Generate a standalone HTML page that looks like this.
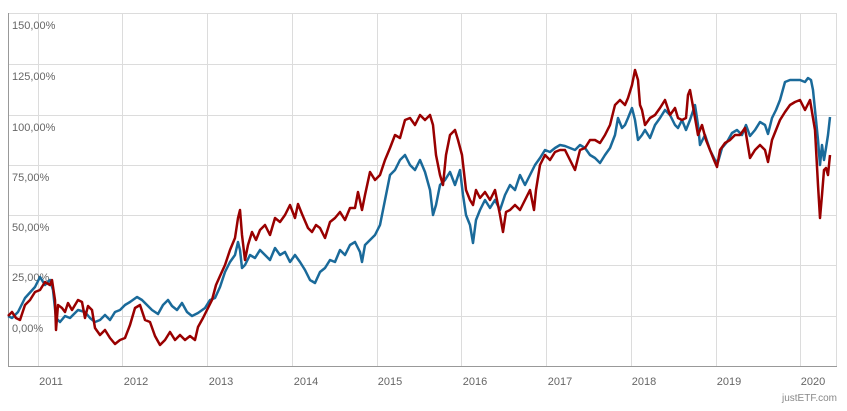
<!DOCTYPE html>
<html><head><meta charset="utf-8"><style>
body{margin:0;background:#fff;}
svg text{font-family:"Liberation Sans",sans-serif;font-size:11px;fill:#666;}
</style></head><body>
<svg width="847" height="406" xmlns="http://www.w3.org/2000/svg">
<g stroke="#dcdcdc" stroke-width="1">
<line x1="8" y1="13.5" x2="837" y2="13.5"/><line x1="8" y1="64.5" x2="837" y2="64.5"/><line x1="8" y1="115.5" x2="837" y2="115.5"/><line x1="8" y1="165.5" x2="837" y2="165.5"/><line x1="8" y1="215.5" x2="837" y2="215.5"/><line x1="8" y1="265.5" x2="837" y2="265.5"/><line x1="8" y1="316.5" x2="837" y2="316.5"/>
<line x1="38.5" y1="13" x2="38.5" y2="366"/><line x1="122.5" y1="13" x2="122.5" y2="366"/><line x1="207.5" y1="13" x2="207.5" y2="366"/><line x1="292.5" y1="13" x2="292.5" y2="366"/><line x1="377.5" y1="13" x2="377.5" y2="366"/><line x1="461.5" y1="13" x2="461.5" y2="366"/><line x1="546.5" y1="13" x2="546.5" y2="366"/><line x1="631.5" y1="13" x2="631.5" y2="366"/><line x1="716.5" y1="13" x2="716.5" y2="366"/><line x1="800.5" y1="13" x2="800.5" y2="366"/>
<line x1="836.5" y1="13" x2="836.5" y2="366"/>
</g>
<g stroke="#999" stroke-width="1"><line x1="8.5" y1="13" x2="8.5" y2="366"/><line x1="8" y1="366.5" x2="837" y2="366.5"/></g>
<g>
<text x="12" y="29">150,00%</text><text x="12" y="80">125,00%</text><text x="12" y="131">100,00%</text><text x="12" y="181">75,00%</text><text x="12" y="231">50,00%</text><text x="12" y="281">25,00%</text><text x="12" y="332">0,00%</text>
</g>
<g text-anchor="middle">
<text x="51" y="385">2011</text><text x="136" y="385">2012</text><text x="221" y="385">2013</text><text x="306" y="385">2014</text><text x="390" y="385">2015</text><text x="475" y="385">2016</text><text x="560" y="385">2017</text><text x="644" y="385">2018</text><text x="729" y="385">2019</text><text x="813" y="385">2020</text>
</g>
<text x="837" y="401" text-anchor="end" style="font-size:10px;fill:#888">justETF.com</text>
<polyline fill="none" stroke="#1a6a9a" stroke-width="2.5" stroke-linejoin="round" points="8,316 12,318 18,312 25,298 35,287 40,277 45,285 50,280 53,290 56,318 60,322 65,316 70,318 78,310 85,312 90,318 95,322 100,320 105,315 110,320 115,312 120,310 125,305 130,302 137,297 142,300 147,305 152,310 158,314 163,305 168,300 172,306 177,310 182,303 187,312 192,316 198,313 205,308 210,300 215,298 220,287 225,272 230,262 235,255 238,242 240,250 242,268 245,265 250,255 255,258 260,250 265,255 270,260 275,248 280,255 285,252 290,262 295,255 300,262 305,270 310,280 315,283 320,272 325,268 330,260 335,262 340,250 345,255 350,245 355,242 360,252 362,262 365,245 370,240 375,235 380,225 385,200 390,175 395,170 400,160 405,155 410,165 415,170 420,160 425,172 430,190 433,215 436,205 440,185 445,180 450,172 455,185 460,170 463,195 466,215 470,225 473,243 476,220 480,210 485,200 490,208 495,200 500,210 505,195 510,185 515,190 520,175 525,185 530,175 535,165 540,158 545,150 550,152 555,148 560,145 565,146 570,148 575,150 580,145 585,148 590,155 595,158 600,163 605,155 610,148 615,135 618,118 622,128 625,125 628,118 632,108 635,120 638,140 642,135 645,130 650,138 655,125 660,118 665,110 670,115 675,125 678,128 682,120 686,130 690,120 695,105 698,125 700,145 705,135 710,150 715,160 718,162 722,148 727,142 732,133 737,130 742,135 746,125 750,136 755,130 760,122 765,125 768,134 772,118 776,110 780,100 785,82 790,80 795,80 800,80 805,82 808,78 811,80 813,90 815,110 818,140 820,165 822,145 824,160 826,148 828,135 830,117"/>
<polyline fill="none" stroke="#990000" stroke-width="2.5" stroke-linejoin="round" points="8,316 12,312 16,318 20,320 25,305 30,300 35,292 40,290 45,282 50,285 52,280 55,300 56,330 58,305 62,308 65,312 68,303 72,310 78,300 82,302 85,318 88,306 92,310 95,328 100,335 105,330 110,338 115,344 120,340 125,338 130,325 135,308 140,305 145,320 150,322 155,336 160,345 165,340 170,332 175,340 180,335 185,340 190,336 195,340 198,327 203,318 207,310 212,300 216,285 220,276 225,265 230,250 235,238 238,218 240,210 242,235 245,260 248,245 252,232 256,240 260,230 265,225 270,235 275,218 280,222 285,215 290,205 295,218 298,204 302,214 308,228 312,232 316,225 320,228 325,238 330,222 335,218 340,212 345,220 350,208 355,208 358,192 362,210 365,195 370,172 375,180 380,175 385,160 390,148 395,135 400,138 405,120 410,118 415,125 420,115 425,120 430,115 433,125 436,155 440,175 443,185 446,155 450,135 455,130 458,140 462,155 466,190 470,200 473,205 476,190 480,198 485,192 490,200 495,190 500,215 503,232 506,212 510,210 515,205 520,210 525,200 530,190 534,210 536,190 540,165 545,155 550,160 555,152 560,150 565,150 570,160 575,170 580,150 585,148 590,140 595,140 600,143 605,135 610,125 615,105 620,100 625,105 628,98 632,85 635,70 638,80 640,105 642,110 645,125 650,118 655,115 660,108 665,100 670,115 675,108 678,118 682,120 686,118 688,95 690,90 694,112 698,135 702,125 706,140 710,150 714,160 717,167 720,150 725,143 730,140 735,135 740,135 745,128 750,158 755,150 760,145 765,150 768,162 772,140 776,130 780,120 785,112 790,105 795,102 800,100 805,110 810,100 812,112 815,130 818,185 820,218 822,195 824,170 826,168 828,175 830,155"/>
</svg>
</body></html>
